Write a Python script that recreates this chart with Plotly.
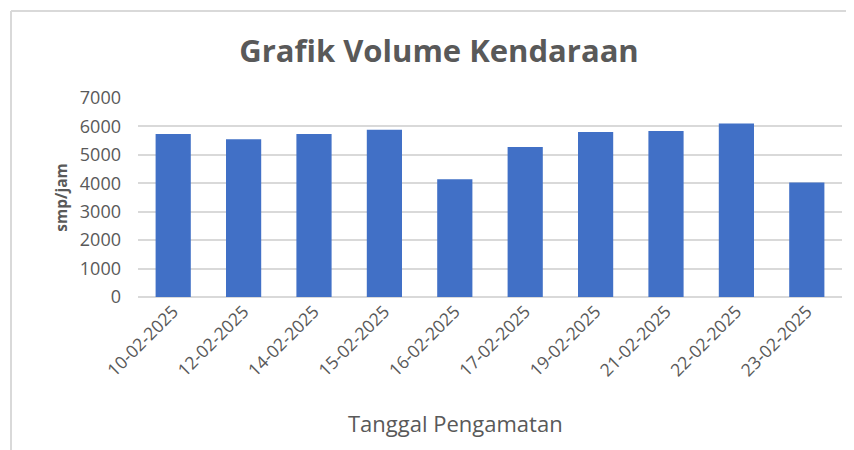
import plotly.graph_objects as go

tanggal = ["10-02-2025", "12-02-2025", "14-02-2025", "15-02-2025", "16-02-2025",
           "17-02-2025", "19-02-2025", "21-02-2025", "22-02-2025", "23-02-2025"]
volume = [5730, 5550, 5730, 5880, 4140, 5280, 5800, 5840, 6100, 4030]
y_ticks = [0, 1000, 2000, 3000, 4000, 5000, 6000, 7000]

FONT = "Open Sans"
GRAY = "#595959"
GRID = "#d9d9d9"

fig = go.Figure(go.Bar(
    x=tanggal, y=volume,
    marker=dict(color="#4170c6", line=dict(width=0)),
))

# page body has an 8px margin, so the figure is drawn 8px in from the window edge
OFF = 8
W, H = 854 - OFF, 450 - OFF
L, R, T, B = 138 - OFF, 12, 98 - OFF, 153
pw, ph = W - L - R, H - T - B

def px_x(x):
    return (x - OFF - L) / pw

def px_y(y):
    return (H - B - (y - OFF)) / ph

fig.update_layout(
    width=W, height=H,
    margin=dict(l=L, r=R, t=T, b=B, autoexpand=False),
    paper_bgcolor="white", plot_bgcolor="white",
    bargap=0.5,
    showlegend=False,
    title=dict(text="<b>Grafik Volume Kendaraan</b>", x=(439 - OFF) / W, xanchor="center",
               y=1 - (51 - OFF) / H, yanchor="middle",
               font=dict(family=FONT, size=31, color=GRAY)),
    font=dict(family=FONT, color=GRAY),
    xaxis=dict(
        tickangle=-45,
        tickfont=dict(family=FONT, size=17.5, color=GRAY),
        showgrid=False, showline=False, ticks="",
        automargin=False,
    ),
    yaxis=dict(
        range=[0, 7000],
        tickvals=y_ticks,
        tickfont=dict(family=FONT, size=18, color=GRAY),
        showgrid=True, gridcolor=GRID, gridwidth=1.5,
        zeroline=True, zerolinecolor=GRID, zerolinewidth=1.5,
        showline=False, ticks="",
        ticklabelstandoff=16,
        title=dict(text="<b>smp/jam</b>", standoff=8,
                   font=dict(family=FONT, size=15.5, color=GRAY)),
        automargin=False,
    ),
    annotations=[
        dict(text="Tanggal Pengamatan", xref="paper", yref="paper",
             x=px_x(455), y=px_y(423), xanchor="center", yanchor="middle",
             showarrow=False, font=dict(family=FONT, size=22, color=GRAY)),
    ],
    shapes=[
        dict(type="line", xref="paper", yref="paper",
             x0=px_x(11), x1=px_x(860), y0=px_y(11), y1=px_y(11),
             line=dict(color=GRID, width=2)),
        dict(type="line", xref="paper", yref="paper",
             x0=px_x(11), x1=px_x(11), y0=px_y(11), y1=px_y(460),
             line=dict(color=GRID, width=2)),
    ],
)

fig.write_html("out.html")
